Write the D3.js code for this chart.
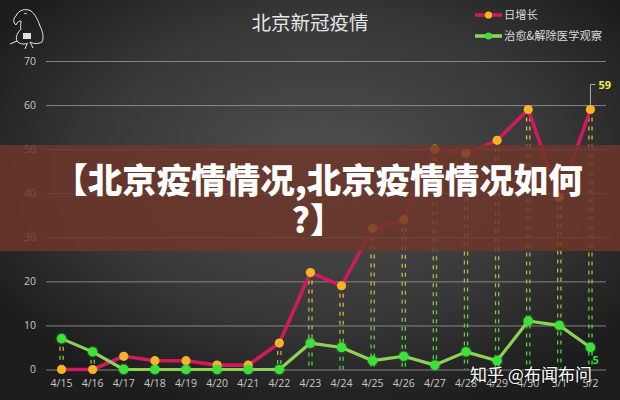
<!DOCTYPE html>
<html><head><meta charset="utf-8">
<script src="https://cdn.jsdelivr.net/npm/d3@7"></script>
<style>html,body{margin:0;padding:0;background:#2a2a2a;}svg{display:block;}</style>
</head><body>
<svg id="chart" width="620" height="400"></svg>
<script>
const categories = ["4/15","4/16","4/17","4/18","4/19","4/20","4/21","4/22","4/23","4/24","4/25","4/26","4/27","4/28","4/29","4/30","5/1","5/2"];
const dailyNew = [0,0,3,2,2,1,1,6,22,19,32,34,50,49,52,59,39,59];
const recovered = [7,4,0,0,0,0,0,0,6,5,2,3,1,4,2,11,10,5];
const yTicks = [0,10,20,30,40,50,60,70];
const seriesNames = ["日增长","治愈&解除医学观察"];
const chartTitle = "北京新冠疫情";
const overlayLines = ["【北京疫情情况,北京疫情情况如何","?】"];
const watermark = "知乎 @布闻布问";

const W = 620, H = 400;
const svg = d3.select("#chart");
const defs = svg.append("defs");
const cjk = "'Noto Sans CJK SC','Noto Sans',sans-serif";
const latin = "'Open Sans','DejaVu Sans',sans-serif";

// background
const bg = defs.append("radialGradient").attr("id","bg")
  .attr("cx","52%").attr("cy","42%").attr("r","62%");
bg.append("stop").attr("offset","0%").attr("stop-color","#505050");
bg.append("stop").attr("offset","60%").attr("stop-color","#383838");
bg.append("stop").attr("offset","100%").attr("stop-color","#1d1d1d");
svg.append("rect").attr("width",W).attr("height",H).attr("fill","url(#bg)");

const glow = defs.append("filter").attr("id","glow").attr("x","-50%").attr("y","-50%").attr("width","200%").attr("height","200%");
glow.append("feGaussianBlur").attr("stdDeviation",1.2).attr("result","b");
const fm = glow.append("feMerge"); fm.append("feMergeNode").attr("in","b"); fm.append("feMergeNode").attr("in","SourceGraphic");

const x = d3.scaleBand().domain(categories).range([46,606]).padding(0);
const cx = c => x(c) + x.bandwidth()/2;
const y = d3.scaleLinear().domain([0,70]).range([369.5,61]);

// grid
const yAxis = d3.axisLeft(y).tickValues(yTicks).tickSize(-560).tickPadding(10);
const gy = svg.append("g").attr("transform","translate(46,0)").call(yAxis);
gy.select(".domain").remove();
gy.selectAll(".tick line").attr("stroke","#9a9a9a").attr("stroke-width",1).attr("opacity",0.8);
gy.selectAll(".tick text").attr("fill","#c4c4c4").attr("font-family",latin).attr("font-size",10.5);

const xAxis = d3.axisBottom(x).tickSize(0).tickPadding(9);
const gx = svg.append("g").attr("transform","translate(0,371)").call(xAxis);
gx.select(".domain").remove();
gx.selectAll(".tick text").attr("fill","#c8c8c8").attr("font-family",latin).attr("font-size",10.5);

// dashed drop lines
categories.forEach((c,i)=>{
  const top = Math.min(y(dailyNew[i]), y(recovered[i]));
  const bot = y(0);
  if (bot - top < 3) return;
  const g = defs.append("linearGradient").attr("id","dg"+i).attr("gradientUnits","userSpaceOnUse")
    .attr("x1",0).attr("x2",0).attr("y1",top).attr("y2",bot);
  g.append("stop").attr("offset","0%").attr("stop-color","#f0b83a");
  g.append("stop").attr("offset","35%").attr("stop-color","#c9b24a");
  g.append("stop").attr("offset","100%").attr("stop-color","#3cd83a");
  [-1.6,1.6].forEach(off=>{
    svg.append("line").attr("x1",cx(c)+off).attr("x2",cx(c)+off)
      .attr("y1",top+8).attr("y2",bot)
      .attr("stroke","url(#dg"+i+")").attr("stroke-width",1.3)
      .attr("stroke-dasharray","4,5");
  });
});

// lines
const lineGen = d3.line().x((d,i)=>cx(categories[i])).y(d=>y(d));
svg.append("path").datum(dailyNew).attr("d",lineGen).attr("fill","none")
  .attr("stroke","#d01a5c").attr("stroke-width",3.6).attr("stroke-linejoin","round");
svg.append("path").datum(recovered).attr("d",lineGen).attr("fill","none")
  .attr("stroke","#8fd05a").attr("stroke-width",3.2).attr("stroke-linejoin","round");

svg.append("g").selectAll("circle").data(dailyNew).join("circle")
  .attr("cx",(d,i)=>cx(categories[i])).attr("cy",d=>y(d)).attr("r",4.6)
  .attr("fill","#f7b526");
svg.append("g").selectAll("circle").data(recovered).join("circle")
  .attr("cx",(d,i)=>cx(categories[i])).attr("cy",d=>y(d)).attr("r",4.6)
  .attr("fill","#3fe03b").attr("filter","url(#glow)");

// last value labels
const last = categories.length-1;
const lx = cx(categories[last]), ly = y(dailyNew[last]);
svg.append("path").attr("d",`M${lx},${ly-4} V${ly-25} H${lx+5}`).attr("fill","none")
  .attr("stroke","#aaaaaa").attr("stroke-width",1);
svg.append("text").attr("x",lx+8).attr("y",ly-20).text(dailyNew[last])
  .attr("fill","#eeea4a").attr("font-family",latin).attr("font-weight","bold").attr("font-size",11);
svg.append("text").attr("x",lx+2).attr("y",y(recovered[last])+17).text(recovered[last])
  .attr("fill","#36d83a").attr("font-family",latin).attr("font-weight","bold").attr("font-size",11);

// title
svg.append("text").attr("x",310).attr("y",30).attr("text-anchor","middle").text(chartTitle)
  .attr("fill","#e6e6e6").attr("font-family",cjk).attr("font-size",19.5);

// legend
const legendColors = [["#d01a5c","#f7b526"],["#8fd05a","#3fe03b"]];
seriesNames.forEach((n,i)=>{
  const ly2 = 15 + i*21;
  svg.append("line").attr("x1",475).attr("x2",502).attr("y1",ly2).attr("y2",ly2)
    .attr("stroke",legendColors[i][0]).attr("stroke-width",3.6);
  svg.append("circle").attr("cx",488.5).attr("cy",ly2).attr("r",3.6).attr("fill",legendColors[i][1]);
  svg.append("text").attr("x",504).attr("y",ly2+4).text(n)
    .attr("fill","#dcdcdc").attr("font-family",cjk).attr("font-size",11.3);
});

// logo (parrot sketch)
const logo = svg.append("g").attr("fill","none").attr("stroke","#e8e8e8").attr("stroke-width",1);
logo.append("path").attr("d","M16,16 C18,10 26,8 31,11 C35,14 38,20 40,26 C43,32 44,38 42,42 C39,44 33,44 30,42 M16,16 C13,18 13,23 16,25 C17,22 19,21 21,21 C21,24 20,27 21,29 C18,32 15,37 17,41 C19,44 24,45 28,43 M30,42 L33,48 M27,44 L25,49 M17,41 L10,44 M24,14 C25,13 26,13 27,14");
logo.append("rect").attr("x",23).attr("y",33).attr("width",8).attr("height",6).attr("fill","#dddddd").attr("stroke","none");

// overlay band
svg.append("rect").attr("x",0).attr("y",145).attr("width",W).attr("height",106)
  .attr("fill","rgb(110,54,42)").attr("opacity",0.84);
overlayLines.forEach((t,i)=>{
  svg.append("text").attr("x",318).attr("y",193 + i*40).attr("text-anchor","middle").text(t)
    .attr("fill","#ffffff").attr("font-family",cjk).attr("font-weight",900).attr("font-size",34.5);
});

// watermark
svg.append("text").attr("x",470).attr("y",381).text(watermark)
  .attr("fill","#ffffff").attr("font-family",cjk).attr("font-size",17)
  .attr("style","paint-order:stroke").attr("stroke","rgba(0,0,0,0.35)").attr("stroke-width",2);
</script>
</body></html>
